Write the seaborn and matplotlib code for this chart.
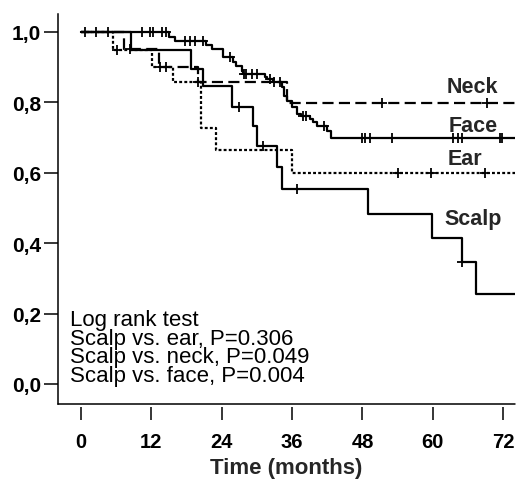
import numpy as np
import pandas as pd
import matplotlib
matplotlib.use("Agg")
import matplotlib.pyplot as plt
import seaborn as sns

# Kaplan-Meier estimates by tumour site: step times (months) and survival after each step
face_times = [0, 15.1, 16.0, 21.4, 22.3, 24.2, 25.9, 26.4, 27.4, 27.6, 31.3, 31.8, 32.7,
              34.2, 34.7, 35.1, 35.9, 36.8, 37.6, 39.0, 39.5, 40.3, 42.0, 42.7]
face_surv = [1.0, 0.986, 0.973, 0.962, 0.950, 0.928, 0.913, 0.902, 0.888, 0.879, 0.871, 0.865, 0.857,
             0.843, 0.817, 0.803, 0.786, 0.766, 0.760, 0.752, 0.743, 0.732, 0.718, 0.698]
face_censored = [0.7, 2.6, 4.6, 10.4, 11.7, 12.3, 13.8, 14.5, 17.7, 18.6, 19.4, 20.8, 25.4,
                 27.8, 28.2, 29.1, 30.1, 32.2, 33.9, 37.9, 38.3, 41.5, 48.0, 48.5, 49.2,
                 53.1, 63.5, 64.2, 65.0, 71.5, 71.8]

neck_times = [0, 7.3, 13.3, 20.0, 35.1]
neck_surv = [1.0, 0.950, 0.900, 0.857, 0.797]
neck_censored = [8.3, 33.0, 51.4, 69.3]

ear_times = [0, 5.4, 12.1, 15.7, 20.4, 23.1, 35.9]
ear_surv = [1.0, 0.948, 0.900, 0.857, 0.726, 0.664, 0.600]
ear_censored = [6.1, 13.5, 14.5, 20.0, 54.1, 59.6, 68.9]

scalp_times = [0, 8.5, 18.7, 20.8, 25.7, 29.3, 30.1, 33.5, 34.2, 49.0, 59.9, 64.9, 67.4]
scalp_surv = [1.0, 0.948, 0.894, 0.845, 0.786, 0.732, 0.675, 0.616, 0.553, 0.482, 0.414, 0.346, 0.255]
scalp_censored = [26.9, 31.0, 36.9, 64.9]

followup_end = 74.0

x_ticks = [0, 12, 24, 36, 48, 60, 72]
y_ticks = [0.0, 0.2, 0.4, 0.6, 0.8, 1.0]
y_tick_labels = ["0,0", "0,2", "0,4", "0,6", "0,8", "1,0"]

test_lines = ["Log rank test",
              "Scalp vs. ear, P=0.306",
              "Scalp vs. neck, P=0.049",
              "Scalp vs. face, P=0.004"]

curves = {
    "Face": (face_times, face_surv, face_censored),
    "Neck": (neck_times, neck_surv, neck_censored),
    "Ear": (ear_times, ear_surv, ear_censored),
    "Scalp": (scalp_times, scalp_surv, scalp_censored),
}

step_rows, cens_rows = [], []
for site, (t, s, c) in curves.items():
    t = list(t) + [followup_end]
    s = list(s) + [s[-1]]
    step_rows += [{"site": site, "time": ti, "surv": si} for ti, si in zip(t, s)]
    idx = np.searchsorted(np.asarray(t), np.asarray(c), side="right") - 1
    cens_rows += [{"site": site, "time": ci, "surv": s[i]} for ci, i in zip(c, idx)]
steps = pd.DataFrame(step_rows)
cens = pd.DataFrame(cens_rows)

sns.set_theme(style="ticks")
plt.rcParams["font.family"] = ["Liberation Sans", "DejaVu Sans"]

fig = plt.figure(figsize=(5.17, 4.81), dpi=100)
ax = fig.add_axes([0.1122, 0.158, 0.884, 0.811])

line_styles = {"Face": "", "Scalp": "", "Neck": (5, 2.4), "Ear": (1.3, 1.0)}
sns.lineplot(data=steps, x="time", y="surv", style="site", dashes=line_styles,
             color="black", estimator=None, sort=False, drawstyle="steps-post",
             linewidth=1.6, legend=False, ax=ax)
sns.scatterplot(data=cens, x="time", y="surv", marker="+", color="black",
                s=45, linewidth=1.3, legend=False, ax=ax, zorder=3)

ax.set_xlim(-3.9, followup_end)
ax.set_ylim(-0.057, 1.051)

# spines first: moving a spine resets its axis ticks
for side in ("top", "right"):
    ax.spines[side].set_visible(False)
ax.spines["left"].set_linewidth(1.1)
ax.spines["left"].set_color("black")
# x ticks hang slightly below the axis line
ax.spines["bottom"].set_position(("outward", 2))
ax.spines["bottom"].set_color("none")
ax.axhline(ax.get_ylim()[0], color="black", linewidth=1.1, clip_on=False)

ax.set_xticks(x_ticks)
ax.set_xticklabels([str(v) for v in x_ticks], fontsize=14.5, fontweight="bold")
ax.set_yticks(y_ticks)
ax.set_yticklabels(y_tick_labels, fontsize=15, fontweight="bold")
ax.set_xlabel("Time (months)", fontsize=16, fontweight="bold", labelpad=4)
ax.set_ylabel("")

ax.tick_params(axis="y", length=10, width=1.1, pad=2, colors="black")
ax.tick_params(axis="x", length=9.5, width=1.1, pad=9, colors="black")

label_pos = {"Neck": (66.7, 0.844), "Face": (66.9, 0.735), "Ear": (65.5, 0.64), "Scalp": (66.9, 0.47)}
for site, (lx, ly) in label_pos.items():
    ax.text(lx, ly, site, fontsize=15.5, fontweight="bold", ha="center", va="center")

ax.text(-1.9, 0.212, "\n".join(test_lines), fontsize=16, ha="left", va="top",
        linespacing=0.84, color="black")

fig.savefig("out.png", dpi=100, facecolor="white")
